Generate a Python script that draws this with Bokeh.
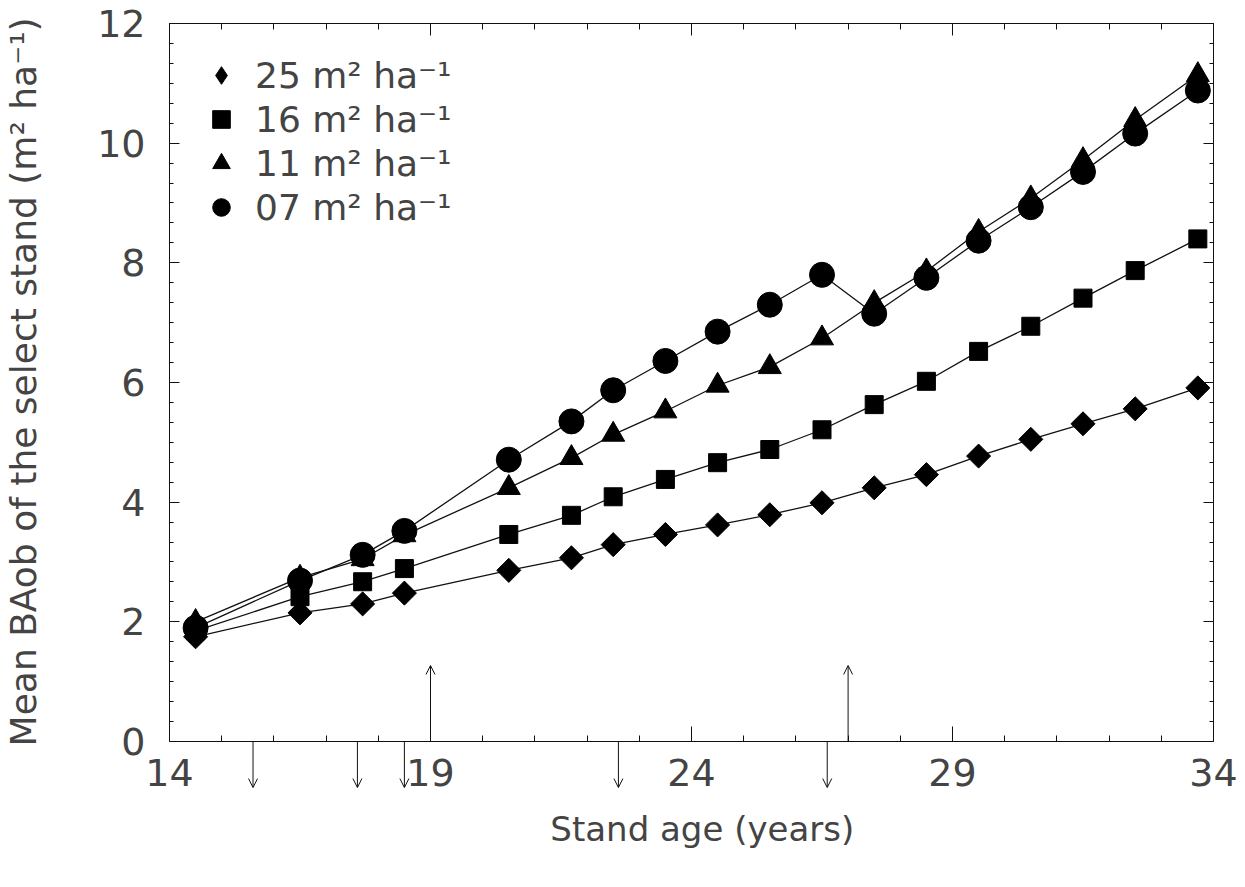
from bokeh.plotting import figure
from bokeh.models import (FixedTicker, LinearAxis, Legend, LegendItem, Arrow,
                          OpenHead, ColumnDataSource, Range1d)
from bokeh.embed import file_html
from bokeh.resources import INLINE
import math

# ---------------- data ----------------
stand_age = [14.5, 16.5, 17.7, 18.5, 20.5, 21.7, 22.5, 23.5, 24.5, 25.5,
             26.5, 27.5, 28.5, 29.5, 30.5, 31.5, 32.5, 33.7]
ba_25 = [1.75, 2.15, 2.30, 2.48, 2.86, 3.07, 3.29, 3.46, 3.62, 3.79,
         3.99, 4.24, 4.46, 4.77, 5.05, 5.31, 5.56, 5.91]
ba_16 = [1.85, 2.42, 2.67, 2.89, 3.46, 3.78, 4.09, 4.38, 4.66, 4.88,
         5.21, 5.63, 6.02, 6.52, 6.94, 7.41, 7.87, 8.40]
ba_11 = [2.00, 2.74, 3.05, 3.45, 4.24, 4.74, 5.13, 5.52, 5.95, 6.26,
         6.74, 7.33, 7.86, 8.52, 9.08, 9.72, 10.39, 11.14]
ba_07 = [1.90, 2.69, 3.12, 3.52, 4.71, 5.35, 5.87, 6.36, 6.85, 7.30,
         7.80, 7.15, 7.75, 8.37, 8.93, 9.52, 10.16, 10.88]
series_labels = ["25 m\u00b2 ha\u207b\u00b9", "16 m\u00b2 ha\u207b\u00b9",
                 "11 m\u00b2 ha\u207b\u00b9", "07 m\u00b2 ha\u207b\u00b9"]
x_title = "Stand age (years)"
y_title = "Mean BAob of the select stand (m\u00b2 ha\u207b\u00b9)"
x_ticks = [14, 19, 24, 29, 34]
y_ticks = [0, 2, 4, 6, 8, 10, 12]
down_arrow_ages = [15.6, 17.6, 18.5, 22.6, 26.6]
up_arrow_ages = [19.0, 27.0]
down_arrow_len = -0.77
up_arrow_len = 1.27

X_MIN, X_MAX = 14, 34
Y_MIN, Y_MAX = 0, 12
Y_PAD = -0.936           # room under the x axis for the downward arrows

x_minor = list(range(X_MIN, X_MAX + 1))
y_minor = [i / 3 for i in range(0, 37)]

FONT = "DejaVu Sans"
TXT = "#444444"
INK = "#111111"
NB = "\u00a0"            # non-breaking spaces nudge the centred titles

p = figure(width=1245, height=887, x_range=Range1d(X_MIN, X_MAX),
           y_range=Range1d(Y_PAD, Y_MAX),
           output_backend="svg", toolbar_location=None,
           min_border_left=165, min_border_right=32, min_border_top=23,
           min_border_bottom=90,
           x_axis_label=NB * 2 + x_title, y_axis_label=NB * 5 + y_title)
p.xgrid.visible = False
p.ygrid.visible = False
p.outline_line_color = None
p.background_fill_color = "white"
p.border_fill_color = "white"

xt = FixedTicker(ticks=x_ticks, minor_ticks=x_minor)
yt = FixedTicker(ticks=y_ticks, minor_ticks=y_minor)


def style_axis(ax, major_in, minor_in):
    ax.axis_line_color = INK
    ax.axis_line_width = 1
    ax.major_tick_line_color = INK
    ax.minor_tick_line_color = INK
    ax.major_tick_in = major_in
    ax.major_tick_out = 0
    ax.minor_tick_in = minor_in
    ax.minor_tick_out = 0
    ax.major_label_text_font = FONT
    ax.major_label_text_color = TXT
    ax.axis_label_text_font = FONT
    ax.axis_label_text_color = TXT
    ax.axis_label_text_font_style = "normal"


# bottom axis: carries the tick labels and the title only
xa = p.xaxis[0]
xa.ticker = xt
style_axis(xa, 0, 0)
xa.axis_line_color = None
xa.major_tick_line_color = None
xa.minor_tick_line_color = None
xa.major_label_text_font_size = "38px"
xa.major_label_standoff = -39
xa.axis_label_text_font_size = "34px"
xa.axis_label_standoff = 20

# the x axis line with its ticks, drawn at y = 0
x0 = LinearAxis(ticker=xt, fixed_location=0)
style_axis(x0, 15, 6)
x0.major_label_text_color = None
x0.major_label_text_font_size = "1px"
x0.major_label_standoff = 0
p.add_layout(x0, "below")

ya = p.yaxis[0]
ya.ticker = yt
ya.bounds = (Y_MIN, Y_MAX)
style_axis(ya, 10, 4)
ya.major_label_text_font_size = "38px"
ya.major_label_standoff = 24
ya.axis_label_text_font_size = "36px"
ya.axis_label_standoff = 50

top = LinearAxis(ticker=xt)
style_axis(top, 12, 6)
top.major_label_text_color = None
p.add_layout(top, "above")
right = LinearAxis(ticker=yt, bounds=(Y_MIN, Y_MAX))
style_axis(right, 10, 4)
right.major_label_text_color = None
p.add_layout(right, "right")

# ---------------- series ----------------
series = [
    (ba_25, "square", 17, math.pi / 4, "diamond"),
    (ba_16, "square", 18, 0.0, "square"),
    (ba_11, "triangle", 23, 0.0, "triangle"),
    (ba_07, "circle", 25, 0.0, "circle"),
]
items = []
for (vals, marker, size, ang, key), lab in zip(series, series_labels):
    src = ColumnDataSource(dict(x=stand_age, y=vals))
    p.line("x", "y", source=src, line_color=INK, line_width=1.3)
    r = p.scatter("x", "y", source=src, marker=marker, size=size, angle=ang,
                  fill_color="black", line_color="black")
    if key == marker:
        items.append(LegendItem(label=lab, renderers=[r]))
    else:
        rk = p.scatter("x", "y", source=src, marker=key, size=size,
                       fill_color="black", line_color="black", visible=False)
        items.append(LegendItem(label=lab, renderers=[rk]))

legend = Legend(items=items, location="top_left", border_line_color=None,
                background_fill_alpha=0, label_text_font=FONT,
                label_text_font_size="36px", label_text_color=TXT,
                glyph_width=44, glyph_height=44, spacing=0, padding=0,
                margin=30, label_standoff=12, inactive_fill_alpha=0)
p.add_layout(legend)

# ---------------- arrows along the age axis ----------------
down_src = ColumnDataSource(dict(x0=down_arrow_ages, y0=[0] * len(down_arrow_ages),
                                 y1=[down_arrow_len] * len(down_arrow_ages)))
up_src = ColumnDataSource(dict(x0=up_arrow_ages, y0=[0] * len(up_arrow_ages),
                               y1=[up_arrow_len] * len(up_arrow_ages)))
for s in (down_src, up_src):
    p.add_layout(Arrow(source=s, x_start="x0", y_start="y0", x_end="x0", y_end="y1",
                       line_color=INK, line_width=1,
                       end=OpenHead(size=9, line_color=INK, line_width=1)))

open("out.html", "w").write(file_html(p, INLINE))
